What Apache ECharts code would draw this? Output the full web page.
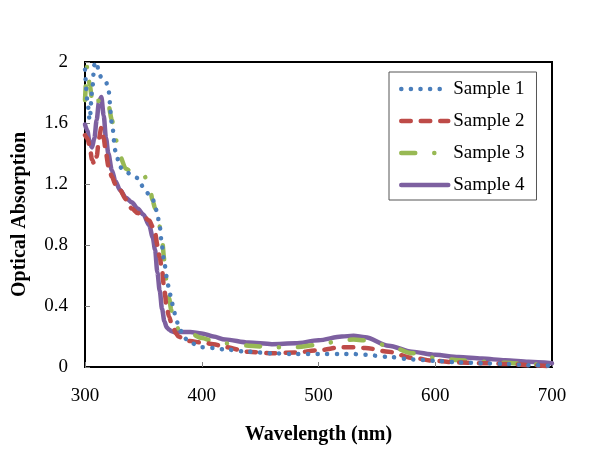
<!DOCTYPE html>
<html>
<head>
<meta charset="utf-8">
<script src="https://cdn.jsdelivr.net/npm/echarts@6/dist/echarts.min.js"></script>
<style>html,body{margin:0;padding:0;background:#fff}#c{width:600px;height:472px}</style>
</head>
<body>
<div id="c"></div>
<script>
const wavelength = [300,302,304,306,308,310,312,314,316,318,320,323,326,330,335,340,345,350,355,358,360,362,364,366,368,370,372,374,376,378,380,385,390,400,410,420,440,460,480,500,520,530,540,560,580,600,620,640,660,680,700];
const sample1 = [1.95,1.75,1.62,1.80,1.98,2.0,1.92,1.90,1.88,1.87,1.82,1.60,1.42,1.31,1.28,1.26,1.24,1.18,1.13,1.10,1.06,1.00,0.92,0.79,0.68,0.59,0.51,0.44,0.37,0.32,0.27,0.19,0.16,0.13,0.125,0.115,0.10,0.09,0.085,0.085,0.085,0.085,0.08,0.066,0.05,0.04,0.03,0.025,0.02,0.012,0.008];
const sample2 = [1.52,1.50,1.45,1.36,1.33,1.38,1.50,1.57,1.50,1.40,1.32,1.25,1.20,1.16,1.10,1.04,1.01,0.99,0.96,0.92,0.88,0.80,0.72,0.63,0.50,0.39,0.33,0.29,0.25,0.22,0.20,0.18,0.17,0.16,0.15,0.13,0.10,0.09,0.095,0.11,0.13,0.13,0.125,0.10,0.06,0.04,0.03,0.025,0.02,0.012,0.005];
const sample3 = [1.75,1.98,1.85,1.76,1.80,1.78,1.74,1.72,1.70,1.72,1.72,1.62,1.50,1.38,1.30,1.28,1.27,1.26,1.20,1.09,1.04,1.00,0.92,0.83,0.70,0.55,0.45,0.37,0.31,0.27,0.25,0.23,0.22,0.19,0.17,0.155,0.14,0.13,0.13,0.145,0.175,0.18,0.175,0.14,0.09,0.06,0.045,0.035,0.028,0.018,0.01];
const sample4 = [1.59,1.55,1.47,1.44,1.50,1.62,1.74,1.77,1.65,1.50,1.40,1.29,1.22,1.16,1.11,1.08,1.04,1.00,0.93,0.85,0.77,0.62,0.50,0.38,0.30,0.26,0.245,0.235,0.23,0.23,0.23,0.23,0.23,0.22,0.20,0.18,0.16,0.15,0.155,0.175,0.20,0.205,0.195,0.14,0.10,0.08,0.065,0.055,0.045,0.035,0.025];
const seriesNames = ['Sample 1','Sample 2','Sample 3','Sample 4'];

const font = 'Liberation Serif, Times New Roman, serif';
const pairs = v => wavelength.map((w, i) => [w, v[i]]);
const styles = [
  {color:'#4A7EBB', width:4.5, type:[0.1, 9.5]},
  {color:'#BE4B48', width:4.5, type:[9.5, 10]},
  {color:'#98B954', width:4.5, type:[14, 19, 0.1, 19]},
  {color:'#7D60A0', width:4.5, type:'solid'}
];
const values = [sample1, sample2, sample3, sample4];

const chart = echarts.init(document.getElementById('c'), null, {renderer:'canvas'});
chart.setOption({
  animation: false,
  backgroundColor: '#fff',
  grid: {left:85, right:48, top:62, bottom:105, show:true, borderColor:'#000', borderWidth:2, backgroundColor:'transparent'},
  xAxis: {
    type:'value', min:300, max:700, interval:100,
    name:'Wavelength (nm)', nameLocation:'middle', nameGap:58,
    nameTextStyle:{fontFamily:font, fontWeight:'bold', fontSize:20, color:'#000'},
    axisLine:{lineStyle:{color:'#000', width:1.5}},
    axisTick:{inside:true, length:5, lineStyle:{color:'#808080'}},
    axisLabel:{fontFamily:font, fontSize:19, color:'#000', margin:20},
    splitLine:{show:false}
  },
  yAxis: {
    type:'value', min:0, max:2, interval:0.4,
    name:'Optical Absorption', nameLocation:'middle', nameGap:55,
    nameTextStyle:{fontFamily:font, fontWeight:'bold', fontSize:20, color:'#000'},
    axisLine:{show:true, lineStyle:{color:'#000', width:1.5}},
    axisTick:{show:true, inside:true, length:5, lineStyle:{color:'#808080'}},
    axisLabel:{fontFamily:font, fontSize:19, color:'#000', margin:17},
    splitLine:{show:false}
  },
  legend: {
    orient:'vertical', left:389, top:72,
    padding:[7, 12, 5, 10], itemGap:12, itemWidth:47, itemHeight:14,
    borderColor:'#555', borderWidth:1, backgroundColor:'#fff',
    itemStyle:{opacity:0},
    lineStyle:{width:4.5, cap:'round'},
    textStyle:{fontFamily:font, fontSize:19, color:'#000', lineHeight:20},
    data: seriesNames
  },
  series: seriesNames.map((n, i) => ({
    name:n, type:'line', data:pairs(values[i]),
    showSymbol:false, symbol:'none', smooth:0.3, smoothMonotone:'x',
    lineStyle:{color:styles[i].color, width:styles[i].width, type:styles[i].type, cap:'round', join:'round'},
    itemStyle:{color:styles[i].color},
    z: 2 + (3 - i)
  }))
});
</script>
</body>
</html>
